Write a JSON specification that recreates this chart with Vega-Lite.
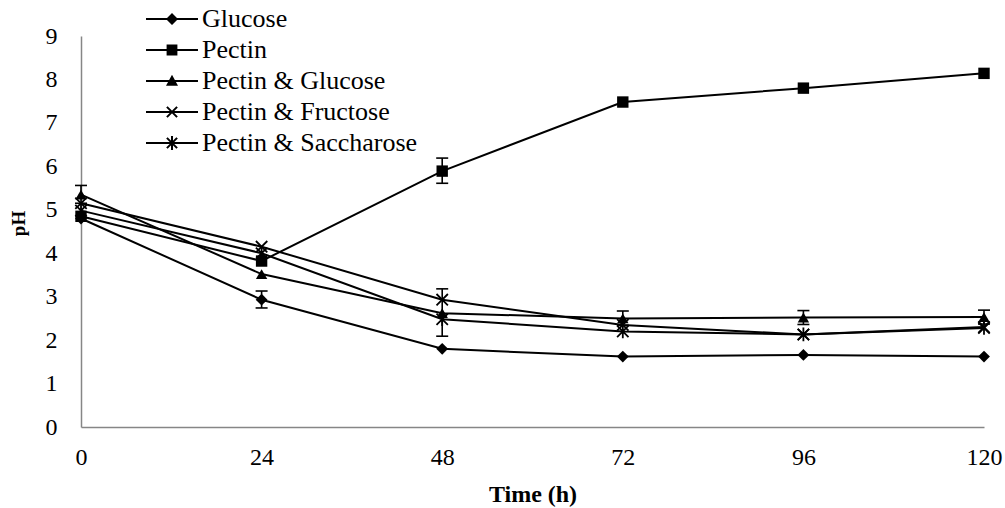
{
  "$schema": "https://vega.github.io/schema/vega-lite/v6.json",
  "autosize": "none",
  "width": 903,
  "height": 391,
  "padding": {"left": 81, "top": 36, "right": 21, "bottom": 81},
  "background": "white",
  "datasets": {
    "pts": [
      {"series": "Glucose", "t": 0, "pH": 4.8},
      {"series": "Glucose", "t": 24, "pH": 2.93},
      {"series": "Glucose", "t": 48, "pH": 1.8},
      {"series": "Glucose", "t": 72, "pH": 1.62},
      {"series": "Glucose", "t": 96, "pH": 1.66},
      {"series": "Glucose", "t": 120, "pH": 1.62},
      {"series": "Pectin", "t": 0, "pH": 4.85},
      {"series": "Pectin", "t": 24, "pH": 3.82},
      {"series": "Pectin", "t": 48, "pH": 5.89},
      {"series": "Pectin", "t": 72, "pH": 7.48},
      {"series": "Pectin", "t": 96, "pH": 7.8},
      {"series": "Pectin", "t": 120, "pH": 8.14},
      {"series": "Pectin & Glucose", "t": 0, "pH": 5.35},
      {"series": "Pectin & Glucose", "t": 24, "pH": 3.52},
      {"series": "Pectin & Glucose", "t": 48, "pH": 2.62},
      {"series": "Pectin & Glucose", "t": 72, "pH": 2.5},
      {"series": "Pectin & Glucose", "t": 96, "pH": 2.52},
      {"series": "Pectin & Glucose", "t": 120, "pH": 2.53},
      {"series": "Pectin & Fructose", "t": 0, "pH": 5.15},
      {"series": "Pectin & Fructose", "t": 24, "pH": 4.15},
      {"series": "Pectin & Fructose", "t": 48, "pH": 2.93},
      {"series": "Pectin & Fructose", "t": 72, "pH": 2.35},
      {"series": "Pectin & Fructose", "t": 96, "pH": 2.13},
      {"series": "Pectin & Fructose", "t": 120, "pH": 2.3},
      {"series": "Pectin & Saccharose", "t": 0, "pH": 4.98},
      {"series": "Pectin & Saccharose", "t": 24, "pH": 4.0},
      {"series": "Pectin & Saccharose", "t": 48, "pH": 2.48},
      {"series": "Pectin & Saccharose", "t": 72, "pH": 2.2},
      {"series": "Pectin & Saccharose", "t": 96, "pH": 2.13},
      {"series": "Pectin & Saccharose", "t": 120, "pH": 2.28}
    ],
    "errs": [
      {"series": "Pectin & Glucose", "t": 0, "lo": 5.15, "hi": 5.56},
      {"series": "Glucose", "t": 24, "lo": 2.74, "hi": 3.13},
      {"series": "Pectin", "t": 48, "lo": 5.61, "hi": 6.19},
      {"series": "Pectin & Glucose", "t": 48, "lo": 2.09, "hi": 3.18},
      {"series": "Pectin & Glucose", "t": 72, "lo": 2.34, "hi": 2.67},
      {"series": "Pectin & Glucose", "t": 96, "lo": 2.36, "hi": 2.68},
      {"series": "Pectin & Glucose", "t": 120, "lo": 2.37, "hi": 2.69}
    ]
  },
  "config": {
    "view": {"stroke": null},
    "font": "Liberation Serif",
    "axis": {
      "labelFont": "Liberation Serif",
      "labelFontSize": 24,
      "labelColor": "black",
      "labelFlush": false,
      "titleFont": "Liberation Serif",
      "titleFontSize": 24,
      "titleFontWeight": "bold",
      "titleColor": "black",
      "domainColor": "#868686",
      "domainWidth": 1.5,
      "ticks": false,
      "grid": false
    },
    "legend": {
      "labelFont": "Liberation Serif",
      "labelFontSize": 26,
      "labelColor": "black"
    }
  },
  "layer": [
    {
      "data": {"name": "pts"},
      "mark": {"type": "line", "color": "black", "strokeWidth": 2},
      "encoding": {
        "x": {"field": "t", "type": "quantitative", "scale": {"domain": [0, 120], "nice": false},
          "axis": {"values": [0, 24, 48, 72, 96, 120], "title": "Time (h)", "labelPadding": 18, "titlePadding": 13}},
        "y": {"field": "pH", "type": "quantitative", "scale": {"domain": [0, 9], "nice": false},
          "axis": {"values": [0, 1, 2, 3, 4, 5, 6, 7, 8, 9], "title": "pH", "labelPadding": 24, "titlePadding": 17, "titleFontSize": 19, "titleY": 187}},
        "detail": {"field": "series", "type": "nominal"}
      }
    },
    {
      "data": {"name": "pts"},
      "transform": [{"filter": "datum.series === 'Glucose'"}],
      "mark": {"type": "point", "shape": "diamond", "filled": true, "color": "black", "opacity": 1, "size": 140},
      "encoding": {
        "x": {"field": "t", "type": "quantitative"},
        "y": {"field": "pH", "type": "quantitative"}
      }
    },
    {
      "data": {"name": "pts"},
      "transform": [{"filter": "datum.series === 'Pectin'"}],
      "mark": {"type": "point", "shape": "square", "filled": true, "color": "black", "opacity": 1, "size": 130},
      "encoding": {
        "x": {"field": "t", "type": "quantitative"},
        "y": {"field": "pH", "type": "quantitative"}
      }
    },
    {
      "data": {"name": "pts"},
      "transform": [{"filter": "datum.series === 'Pectin & Glucose'"}],
      "mark": {"type": "point", "shape": "triangle-up", "filled": true, "color": "black", "opacity": 1, "size": 130},
      "encoding": {
        "x": {"field": "t", "type": "quantitative"},
        "y": {"field": "pH", "type": "quantitative"}
      }
    },
    {
      "data": {"name": "pts"},
      "transform": [{"filter": "datum.series === 'Pectin & Fructose'"}],
      "mark": {"type": "point", "shape": "M-1,-1L1,1M-1,1L1,-1", "filled": false, "color": "black", "strokeWidth": 1.8, "opacity": 1, "size": 130},
      "encoding": {
        "x": {"field": "t", "type": "quantitative"},
        "y": {"field": "pH", "type": "quantitative"}
      }
    },
    {
      "data": {"name": "pts"},
      "transform": [{"filter": "datum.series === 'Pectin & Saccharose'"}],
      "mark": {"type": "point", "shape": "M-1,-1L1,1M-1,1L1,-1M0,-1.2L0,1.2", "filled": false, "color": "black", "strokeWidth": 1.8, "opacity": 1, "size": 130},
      "encoding": {
        "x": {"field": "t", "type": "quantitative"},
        "y": {"field": "pH", "type": "quantitative"}
      }
    },
    {
      "data": {"name": "pts"},
      "transform": [{"filter": "datum.t < 0"}],
      "mark": {"type": "point", "filled": true, "color": "black", "opacity": 1},
      "encoding": {
        "x": {"field": "t", "type": "quantitative"},
        "y": {"field": "pH", "type": "quantitative"},
        "shape": {
          "field": "series", "type": "nominal",
          "scale": {
            "domain": ["Glucose", "Pectin", "Pectin & Glucose", "Pectin & Fructose", "Pectin & Saccharose"],
            "range": [
              "M-4.33,-0.17L4.33,-0.17L4.33,0.17L-4.33,0.17ZM-1,0L0,-1L1,0L0,1Z",
              "M-4.33,-0.17L4.33,-0.17L4.33,0.17L-4.33,0.17ZM-0.9,-0.9L0.9,-0.9L0.9,0.9L-0.9,0.9Z",
              "M-4.33,-0.17L4.33,-0.17L4.33,0.17L-4.33,0.17ZM0,-1.05L1,0.8L-1,0.8Z",
              "M-4.33,-0.17L4.33,-0.17L4.33,0.17L-4.33,0.17ZM-0.73,-0.97L0.97,0.73L0.73,0.97L-0.97,-0.73ZM-0.97,0.73L0.73,-0.97L0.97,-0.73L-0.73,0.97Z",
              "M-4.33,-0.17L4.33,-0.17L4.33,0.17L-4.33,0.17ZM-0.73,-0.97L0.97,0.73L0.73,0.97L-0.97,-0.73ZM-0.97,0.73L0.73,-0.97L0.97,-0.73L-0.73,0.97ZM-0.17,-1.15L0.17,-1.15L0.17,1.15L-0.17,1.15Z"
            ]
          },
          "legend": {
            "title": null,
            "orient": "none",
            "legendX": 78,
            "legendY": -30,
            "symbolSize": 144,
            "symbolFillColor": "black",
            "symbolStrokeWidth": 0,
            "symbolOpacity": 1,
            "labelFont": "Liberation Serif",
            "labelFontSize": 26,
            "labelOffset": 17,
            "labelLimit": 0,
            "rowPadding": 5,
            "padding": 0
          }
        }
      }
    },
    {
      "data": {"name": "errs"},
      "mark": {"type": "rule", "color": "black", "strokeWidth": 1.6},
      "encoding": {
        "x": {"field": "t", "type": "quantitative"},
        "y": {"field": "lo", "type": "quantitative"},
        "y2": {"field": "hi"}
      }
    },
    {
      "data": {"name": "errs"},
      "mark": {"type": "tick", "orient": "horizontal", "color": "black", "size": 12, "thickness": 1.6, "opacity": 1},
      "encoding": {
        "x": {"field": "t", "type": "quantitative"},
        "y": {"field": "lo", "type": "quantitative"}
      }
    },
    {
      "data": {"name": "errs"},
      "mark": {"type": "tick", "orient": "horizontal", "color": "black", "size": 12, "thickness": 1.6, "opacity": 1},
      "encoding": {
        "x": {"field": "t", "type": "quantitative"},
        "y": {"field": "hi", "type": "quantitative"}
      }
    }
  ]
}
